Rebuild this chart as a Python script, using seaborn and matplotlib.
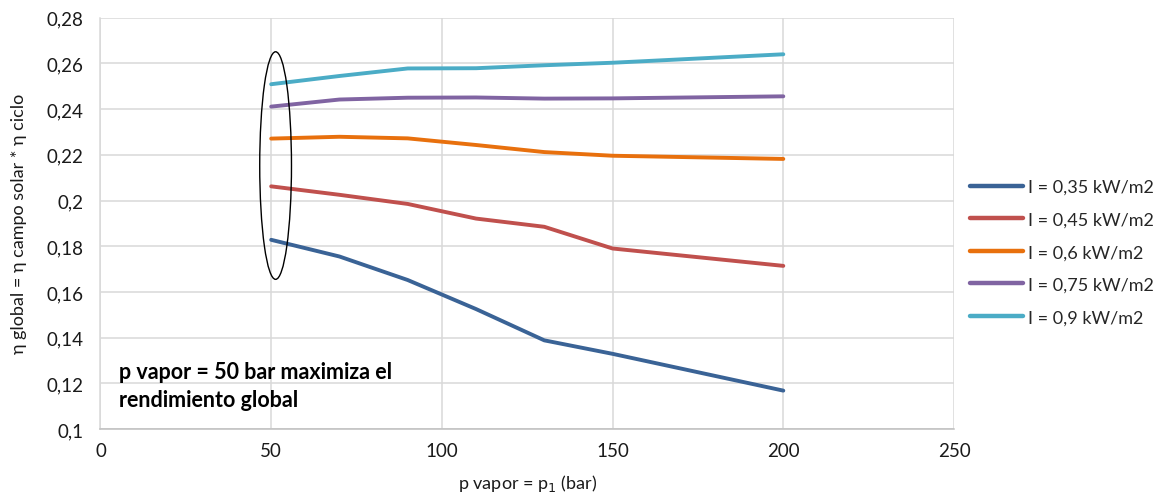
import matplotlib
matplotlib.use("Agg")
import matplotlib.pyplot as plt
from matplotlib.patches import Ellipse
from matplotlib.ticker import FuncFormatter, MultipleLocator
import numpy as np
import pandas as pd
import seaborn as sns

# Steam pressure (bar)
pressure = [50, 70, 90, 110, 130, 150, 200]

# Global efficiency for each irradiance level
eta_035 = [0.1828, 0.1755, 0.1652, 0.1525, 0.1388, 0.1329, 0.1168]
eta_045 = [0.2062, 0.2025, 0.1985, 0.1921, 0.1885, 0.1790, 0.1714]
eta_060 = [0.2271, 0.2279, 0.2272, 0.2243, 0.2212, 0.2196, 0.2182]
eta_075 = [0.2411, 0.2442, 0.2450, 0.2451, 0.2446, 0.2447, 0.2456]
eta_090 = [0.2509, 0.2545, 0.2578, 0.2579, 0.2592, 0.2603, 0.2640]

series_labels = ["I = 0,35 kW/m2", "I = 0,45 kW/m2", "I = 0,6 kW/m2",
                 "I = 0,75 kW/m2", "I = 0,9 kW/m2"]
series_values = [eta_035, eta_045, eta_060, eta_075, eta_090]
colors = ["#3A6396", "#C0504D", "#E8700D", "#8064A2", "#4BACC6"]

df = pd.concat(
    [pd.DataFrame({"p": pressure, "eta": vals, "serie": lab})
     for lab, vals in zip(series_labels, series_values)],
    ignore_index=True,
)

sns.set_theme(style="white")
plt.rcParams["font.family"] = ["Lato", "DejaVu Sans"]

fig = plt.figure(figsize=(11.68, 5.02), dpi=100)
ax = fig.add_axes([0.086, 0.1434, 0.7308, 0.8193])

sns.lineplot(data=df, x="p", y="eta", hue="serie", hue_order=series_labels,
             palette=colors, linewidth=2.8, ax=ax, legend=True)

ax.set_xlim(0, 250)
ax.set_ylim(0.1, 0.28)
ax.xaxis.set_major_locator(MultipleLocator(50))
ax.yaxis.set_major_locator(MultipleLocator(0.02))


def comma_fmt(v, pos):
    s = f"{v:.2f}".rstrip("0").rstrip(".")
    return s.replace(".", ",")


ax.yaxis.set_major_formatter(FuncFormatter(comma_fmt))
ax.xaxis.set_major_formatter(FuncFormatter(lambda v, p: f"{v:.0f}"))

ax.grid(True, color="#d9d9d9", linewidth=1.1)
ax.set_axisbelow(True)
for side in ["top", "right"]:
    ax.spines[side].set_visible(False)
ax.spines["left"].set_color("#d9d9d9")
ax.spines["bottom"].set_color("#bfbfbf")
ax.spines["left"].set_linewidth(1.1)
ax.spines["bottom"].set_linewidth(1.1)

ax.tick_params(axis="both", length=0, labelsize=13.5, colors="#1a1a1a")
ax.tick_params(axis="x", pad=9)
ax.tick_params(axis="y", pad=12)

ax.set_xlabel("p vapor = p$_1$ (bar)", fontsize=13, color="#1a1a1a", labelpad=10)
ax.set_ylabel("η global = η campo solar * η ciclo", fontsize=13,
              color="#1a1a1a", labelpad=14)

# Ellipse highlighting the 50 bar column
ax.add_patch(Ellipse((51.3, 0.2153), width=9.3, height=0.0996,
                     fill=False, edgecolor="black", linewidth=1.0, zorder=5))

ax.text(5.3, 0.119, "p vapor = 50 bar maximiza el\nrendimiento global",
        fontsize=15.5, fontweight="bold", color="black", linespacing=1.45,
        va="center", ha="left")

handles, labels = ax.get_legend_handles_labels()
leg = ax.legend(handles, labels, loc="center left",
                bbox_to_anchor=(1.019, 0.43), frameon=False, fontsize=13,
                handlelength=2.9, handletextpad=0.3, labelspacing=0.92,
                borderaxespad=0.0, borderpad=0.0)
for line in leg.get_lines():
    line.set_linewidth(3.2)

fig.savefig("out.png", dpi=100)
